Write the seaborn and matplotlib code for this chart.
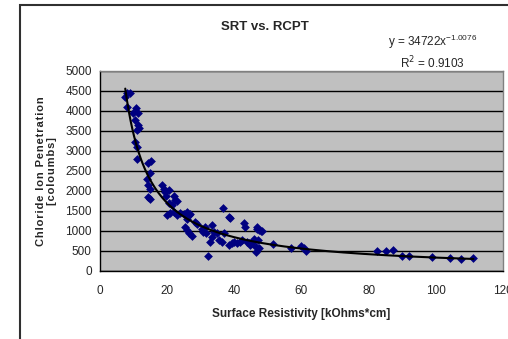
import numpy as np
import pandas as pd
import seaborn as sns
import matplotlib.pyplot as plt
from matplotlib.patches import Rectangle

# surface resistivity (kOhm*cm) vs chloride ion penetration (coulombs)
srt = [7.5, 8.0, 9.0, 8.0, 10.7, 11.4, 9.9, 10.4, 11.4, 11.0, 11.6, 10.4, 11.0, 11.0,
       14.4, 15.2, 14.9, 14.4, 14.9, 14.4, 14.9, 13.9,
       18.4, 18.9, 19.4, 20.4, 19.7, 21.9, 22.4, 22.9, 20.4, 21.4,
       19.9, 20.9, 21.9, 22.9, 23.9, 24.9, 25.9, 26.4, 26.9, 25.9,
       25.4, 25.9, 26.4, 27.4, 28.4, 28.9, 30.3, 31.3, 30.8, 31.5,
       32.1, 32.8, 33.3, 33.3, 33.8, 34.8, 35.3, 36.3, 36.6, 36.8,
       38.3, 38.8, 38.3, 39.3, 39.8, 40.8, 41.8, 42.3, 42.8, 43.1,
       44.3, 45.3, 46.3, 46.3, 46.6, 47.3, 47.8, 47.0, 47.3, 46.8, 48.3,
       45.8, 44.8, 43.8,
       51.5, 56.9, 59.9, 60.7, 61.2, 82.6, 85.1, 87.3, 90.0, 92.0,
       99.0, 104.3, 107.6, 111.2]
rcpt = [4360, 4440, 4440, 4110, 4070, 3940, 3940, 3775, 3650, 3525, 3580, 3230, 3110, 2800,
        2690, 2750, 2440, 2150, 2060, 1860, 1800, 2300,
        2150, 2040, 1980, 2020, 1880, 1880, 1770, 1750, 1710, 1640,
        1400, 1440, 1480, 1400, 1450, 1430, 1480, 1400, 1430, 1310,
        1110, 1020, 940, 880, 1220, 1180, 1060, 1110, 980, 940,
        375, 730, 1150, 860, 980, 940, 770, 730, 1580, 940,
        1360, 1330, 650, 690, 730, 710, 730, 770, 1190, 1110,
        690, 710, 610, 480, 1110, 1020, 1000, 770, 570, 1060, 1010,
        800, 640, 720,
        675, 570, 625, 570, 510, 490, 490, 525, 375, 375,
        360, 330, 310, 330]

# power trendline from the chart label
coef_a = 34722
coef_b = -1.0076
r2 = 0.9103

df = pd.DataFrame({"srt": srt, "rcpt": rcpt})

sns.set_style("white")
plt.rcParams["font.family"] = ["Liberation Sans", "DejaVu Sans"]

fig = plt.figure(figsize=(5.08, 3.39), dpi=100)
ax = fig.add_axes([0.197, 0.2006, 0.793, 0.59])
ax.set_facecolor("#c0c0c0")

sns.scatterplot(data=df, x="srt", y="rcpt", marker="D", s=20, color="#000080",
                linewidth=0, ax=ax, zorder=3)

xs = np.linspace(df["srt"].min(), df["srt"].max(), 200)
ax.plot(xs, coef_a * xs ** coef_b, color="black", lw=1.5, zorder=4)

ax.set_xlim(0, 120)
ax.set_ylim(0, 5000)
ax.set_xticks(range(0, 121, 20))
ax.set_yticks(range(0, 5001, 500))
ax.yaxis.grid(True, color="black", lw=1)
ax.set_axisbelow(True)
ax.tick_params(axis="both", labelsize=8.5, length=4, width=1, color="black", direction="out", pad=6)
ax.tick_params(axis="y", pad=2)
for s in ["left", "bottom"]:
    ax.spines[s].set_color("black")
    ax.spines[s].set_linewidth(1)
for s in ["top", "right"]:
    ax.spines[s].set_color("#808080")
    ax.spines[s].set_linewidth(1)

ylab1 = "\u200a".join("Chloride Ion Penetration")
ylab2 = "\u200a".join("[coloumbs]")
ax.set_xlabel("Surface Resistivity [kOhms*cm]", fontsize=8.5, fontweight="bold", labelpad=8)
ax.set_ylabel(ylab1 + "\n" + ylab2, fontsize=8, fontweight="bold", labelpad=6, linespacing=1.1)

fig.text(0.522, 0.92, "SRT vs. RCPT", ha="center", va="center", fontsize=9.5, fontweight="bold")
fig.text(0.852, 0.875, "y = %dx$^{\\mathdefault{%.4f}}$" % (coef_a, coef_b),
         ha="center", va="center", fontsize=8.5)
fig.text(0.852, 0.815, "R$^2$ = %.4f" % r2, ha="center", va="center", fontsize=8.5)

# outer chart border (extends past the image edge)
fig.patches.append(Rectangle((0.039, -0.1), 1.2, 1.085, transform=fig.transFigure,
                             fill=False, edgecolor="#303030", lw=1.5))

fig.savefig("out.png", dpi=100)
